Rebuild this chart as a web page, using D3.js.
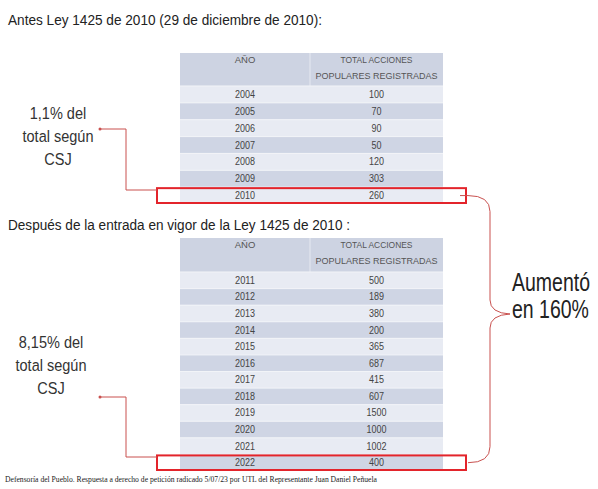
<!DOCTYPE html>
<html>
<head>
<meta charset="utf-8">
<script src="https://cdn.jsdelivr.net/npm/d3@7"></script>
<style>
  body { margin: 0; background: #fff; }
  svg { display: block; }
  text { font-family: "Liberation Sans", Arial, sans-serif; }
</style>
</head>
<body>
<svg width="598" height="489"></svg>
<script>
var years1 = ['2004', '2005', '2006', '2007', '2008', '2009', '2010'];
var values1 = [100, 70, 90, 50, 120, 303, 260];
var years2 = ['2011', '2012', '2013', '2014', '2015', '2016', '2017', '2018', '2019', '2020', '2021', '2022'];
var values2 = [500, 189, 380, 200, 365, 687, 415, 607, 1500, 1000, 1002, 400];
var headers = ['AÑO', ['TOTAL ACCIONES', 'POPULARES REGISTRADAS']];
var titles = ['Antes Ley 1425 de 2010 (29 de diciembre de 2010):',
    'Después de la entrada en vigor de la Ley 1425 de 2010 :'];
var note1 = ['1,1% del', 'total según', 'CSJ'];
var note2 = ['8,15% del', 'total según', 'CSJ'];
var increase = ['Aumentó', 'en 160%'];
var source = 'Defensoría del Pueblo. Respuesta a derecho de petición radicado 5/07/23 por UTL del Representante Juan Daniel Peñuela';

var svg = d3.select('svg');
var g = svg.append('g');

var red = '#e3242b';
var lineRed = '#c9514f';

// titles
g.append('text').attr('x', 8).attr('y', 25).attr('font-size', 14).attr('fill', '#222')
    .attr('textLength', 314).attr('lengthAdjust', 'spacingAndGlyphs').text(titles[0]);
g.append('text').attr('x', 8).attr('y', 230).attr('font-size', 14).attr('fill', '#222')
    .attr('textLength', 342).attr('lengthAdjust', 'spacingAndGlyphs').text(titles[1]);

function drawTable(top, headerH, bottom, years, values) {
    var t = g.append('g');
    var x = d3.scaleLinear().domain([0, 1, 2]).range([180, 310, 443]);
    var y = d3.scaleBand().domain(years).range([top + headerH, bottom]);

    // header
    t.append('rect').attr('x', x(0)).attr('y', top).attr('width', x(2) - x(0))
        .attr('height', headerH).attr('fill', '#cdd3e2');
    t.append('line').attr('x1', x(1)).attr('x2', x(1)).attr('y1', top).attr('y2', top + headerH)
        .attr('stroke', '#e6e9f1').attr('stroke-width', 1);
    t.append('text').attr('x', (x(0) + x(1)) / 2).attr('y', top + 10).attr('text-anchor', 'middle')
        .attr('font-size', 9.5).attr('fill', '#555').text(headers[0]);
    t.selectAll('.h2').data(headers[1]).enter().append('text')
        .attr('x', (x(1) + x(2)) / 2)
        .attr('y', function (d, i) { return top + 10 + i * 16; })
        .attr('text-anchor', 'middle').attr('font-size', 9.5).attr('fill', '#555')
        .attr('textLength', function (d, i) { return i ? 122 : 72; })
        .attr('lengthAdjust', 'spacingAndGlyphs')
        .text(function (d) { return d; });

    // rows
    var rows = t.selectAll('.row').data(years).enter().append('g');
    rows.append('rect')
        .attr('x', x(0)).attr('y', function (d) { return y(d); })
        .attr('width', x(2) - x(0)).attr('height', y.bandwidth())
        .attr('fill', function (d, i) { return i % 2 ? '#cfd5e4' : '#e8ebf3'; });
    rows.append('line')
        .attr('x1', x(0)).attr('x2', x(2))
        .attr('y1', function (d) { return y(d); }).attr('y2', function (d) { return y(d); })
        .attr('stroke', '#f2f4f8').attr('stroke-width', 1);
    rows.append('text')
        .attr('x', (x(0) + x(1)) / 2)
        .attr('y', function (d) { return y(d) + y.bandwidth() / 2 + 3.5; })
        .attr('text-anchor', 'middle').attr('font-size', 10).attr('fill', '#444')
        .attr('textLength', 20).attr('lengthAdjust', 'spacingAndGlyphs')
        .text(function (d) { return d; });
    rows.append('text')
        .attr('x', (x(1) + x(2)) / 2)
        .attr('y', function (d) { return y(d) + y.bandwidth() / 2 + 3.5; })
        .attr('text-anchor', 'middle').attr('font-size', 10).attr('fill', '#444')
        .attr('textLength', function (d, i) { return String(values[i]).length * 5; })
        .attr('lengthAdjust', 'spacingAndGlyphs')
        .text(function (d, i) { return values[i]; });

    // highlight on the last row
    var last = years[years.length - 1];
    t.append('rect')
        .attr('x', 157).attr('y', y(last) + 1)
        .attr('width', 309).attr('height', y.bandwidth() - 2)
        .attr('fill', 'none').attr('stroke', red).attr('stroke-width', 2);
    return y(last) + y.bandwidth() / 2;
}

var mid1 = drawTable(53, 33, 204, years1, values1);
var mid2 = drawTable(238, 34, 471, years2, values2);

// left notes (narrowed with a horizontal scale)
function note(lines, cx, y0, dotY, joinY) {
    g.append('g')
        .attr('transform', 'translate(' + cx + ',0) scale(0.88,1)')
        .selectAll('text').data(lines).enter().append('text')
        .attr('x', 0).attr('y', function (d, i) { return y0 + i * 23; })
        .attr('text-anchor', 'middle').attr('font-size', 16.5).attr('fill', '#333')
        .text(function (d) { return d; });
    var p = d3.path();
    p.moveTo(100, dotY);
    p.lineTo(126, dotY);
    p.lineTo(126, joinY);
    p.lineTo(157, joinY);
    g.append('path').attr('d', p.toString()).attr('fill', 'none')
        .attr('stroke', lineRed).attr('stroke-width', 1);
    g.append('circle').attr('cx', 100).attr('cy', dotY).attr('r', 1.5).attr('fill', lineRed);
}
note(note1, 58, 119, 129, 190);
note(note2, 51, 348, 397, 457);

// brace on the right
var b = d3.path();
b.moveTo(460, mid1);
b.lineTo(468, mid1);
b.quadraticCurveTo(490, mid1, 490, mid1 + 16);
b.lineTo(490, 300);
b.quadraticCurveTo(490, 313, 510, 314);
b.moveTo(510, 314);
b.quadraticCurveTo(490, 315, 490, 328);
b.lineTo(490, mid2 - 16);
b.quadraticCurveTo(490, mid2, 468, mid2);
g.append('path').attr('d', b.toString()).attr('fill', 'none')
    .attr('stroke', lineRed).attr('stroke-width', 1);

g.append('g')
    .attr('transform', 'translate(512,0) scale(0.78,1)')
    .selectAll('text').data(increase).enter().append('text')
    .attr('x', 0).attr('y', function (d, i) { return 291 + i * 27; })
    .attr('font-size', 25).attr('fill', '#222')
    .text(function (d) { return d; });

// source
g.append('text').attr('x', 5).attr('y', 482)
    .style('font-family', '"Liberation Serif", "Times New Roman", serif')
    .attr('font-size', 8).attr('fill', '#222')
    .attr('textLength', 372).attr('lengthAdjust', 'spacingAndGlyphs')
    .text(source);
</script>
</body>
</html>
